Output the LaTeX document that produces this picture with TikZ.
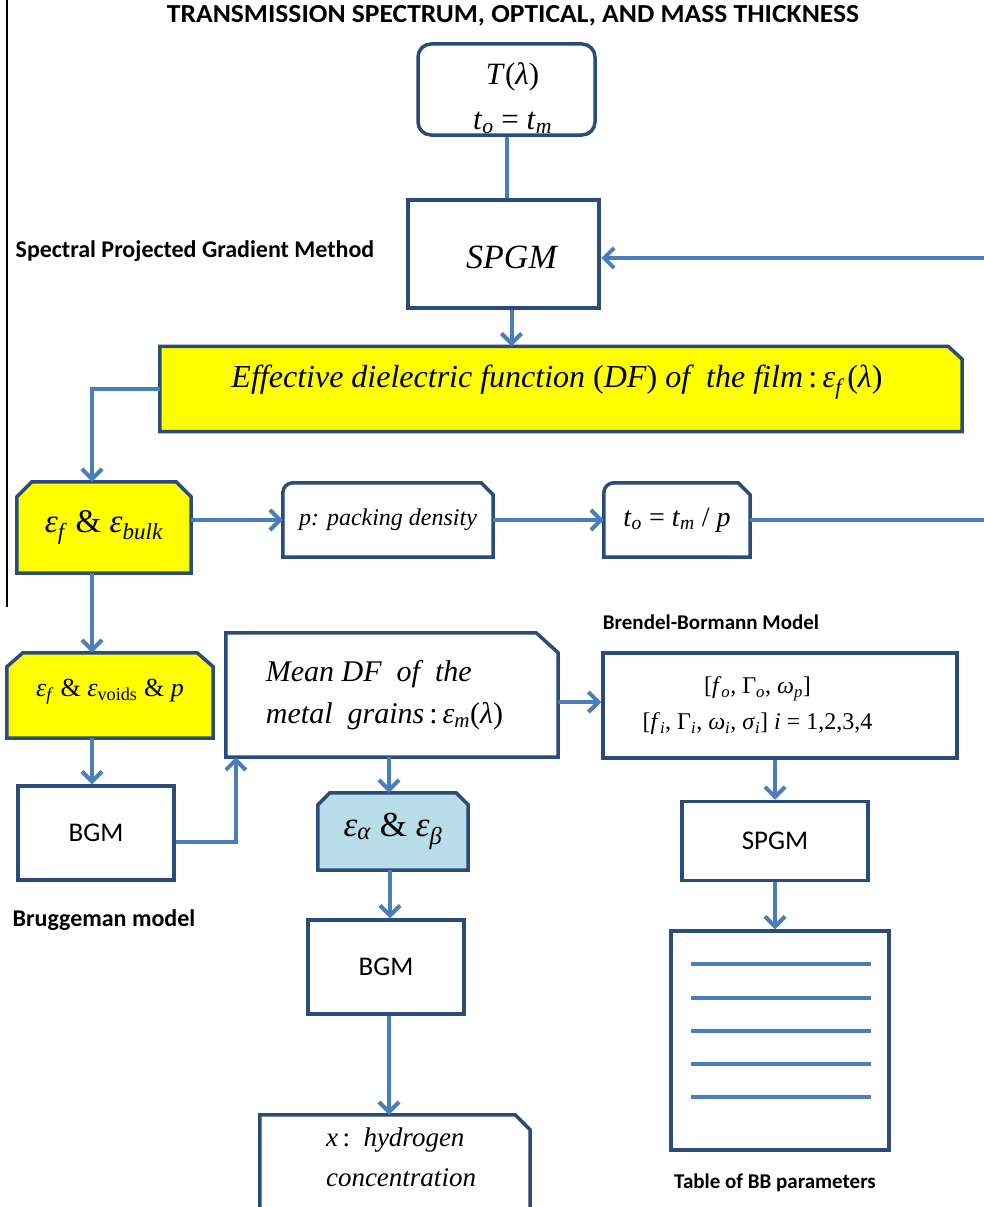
\documentclass[tikz,border=0pt]{standalone}
\usepackage{fontspec}
\setmainfont{Liberation Serif}
\newfontfamily\calib{Carlito}
\usetikzlibrary{arrows.meta,backgrounds}
\definecolor{cblue}{HTML}{4A7EBB}
\definecolor{bnavy}{HTML}{2B4B78}
\definecolor{ylw}{HTML}{FFFF00}
\definecolor{lblue}{HTML}{B7DDE8}
\newcommand\fs[2][]{\fontsize{#2}{#2}\selectfont}
\newcommand\sbs[1]{\textsubscript{#1}}
\tikzset{
  sq/.style={draw=bnavy,line width=3.5pt,inner sep=0pt,align=center},
  nb/.style={inner sep=0pt,align=center},
  outl/.style={draw=bnavy,line width=3.5pt,line join=miter},
  conn/.style={draw=cblue,line width=4pt},
  arr/.style={conn,-{Straight Barb[length=10pt,width=20pt]}},
  lbl/.style={font=\calib\bfseries\fontsize{24}{24}\selectfont,inner sep=0pt},
  lbls/.style={font=\calib\bfseries\fontsize{21}{21}\selectfont,inner sep=0pt},
}
\begin{document}
\begin{tikzpicture}[x=1pt,y=-1pt]
\useasboundingbox (0,0) rectangle (984,1207);
% labels
\node[inner sep=0pt,font=\calib\bfseries\fontsize{26}{26}\selectfont] (title) at (513,16)
  {\scalebox{1.06}[1]{TRANSMISSION SPECTRUM, OPTICAL, AND MASS THICKNESS}};
\node[lbl] (lspgm) at (195,251) {Spectral Projected Gradient Method};
\node[lbl] (lbrug) at (104,920) {Bruggeman model};
\node[lbls] (lbren) at (711,622) {Brendel-Bormann Model};
\node[lbls] (ltab) at (775,1183) {Table of BB parameters};
% plain boxes
\node[sq,rounded corners=13pt,minimum width=177pt,minimum height=91pt] (T) at (506.5,89.5) {};
\node[nb,font=\fontsize{31}{45}\selectfont] (Ttxt) at ([xshift=6pt,yshift=-9pt]T.center)
  {\textit{T}(\textit{λ})\\\textit{t}\sbs{\textit{o}} = \textit{t}\sbs{\textit{m}}};
\node[sq,line width=4.5pt,minimum width=191pt,minimum height=108pt] (spgm) at (503.5,254) {};
\node[nb] (spgmtxt) at ([xshift=8pt,yshift=-3pt]spgm.center) {\fs{34}\itshape SPGM};
\node[sq,minimum width=156pt,minimum height=94pt] (bgm1) at (96,833) {\calib\fs{27}BGM};
\node[sq,minimum width=156pt,minimum height=94pt] (bgm2) at (386,967) {\calib\fs{27}BGM};
\node[sq,minimum width=354pt,minimum height=105pt,font=\fontsize{24}{36}\selectfont] (bb) at (780,705.5)
  {{}[\textit{f}\sbs{\textit{o}}, Γ\sbs{\textit{o}}, \textit{ω}\sbs{\textit{p}}]\hspace*{45pt}\\{}[\textit{f}\sbs{\textit{i}}, Γ\sbs{\textit{i}}, \textit{ω}\sbs{\textit{i}}, \textit{σ}\sbs{\textit{i}}] \textit{i} = 1,2,3,4\hspace*{45pt}};
\node[sq,minimum width=186pt,minimum height=79pt] (spgm2) at (775,841) {\calib\fs{27}SPGM};
\node[sq,minimum width=218pt,minimum height=219pt] (tab) at (780,1040.5) {};
% shaped boxes (outlines on background)
\node[nb,minimum width=802pt,minimum height=85pt] (eff) at (561,389) {};
\node[nb] (efftxt) at ([xshift=-4pt,yshift=7pt]eff.center)
  {\fs{32}\textit{Effective dielectric function }(\textit{DF})\textit{ of\ \ the film}\,:\,\textit{ε\sbs{f}}\,(\textit{λ})};
\node[nb,minimum width=174pt,minimum height=91pt] (ebulk) at (104,527.5)
  {\fs{33}\textit{ε}\sbs{\textit{f}} \& \textit{ε}\sbs{\textit{bulk}}};
\node[nb,minimum width=210pt,minimum height=74pt] (pbox) at (388,520)
  {\fs{24}\textit{p: packing density}};
\node[nb,minimum width=146pt,minimum height=74pt] (tob) at (677,520)
  {\fs{28}\textit{t}\sbs{\textit{o}} = \textit{t}\sbs{\textit{m}} / \textit{p}};
\node[nb,minimum width=206pt,minimum height=85pt] (evoids) at (110,695.5) {};
\node[nb] (evtxt) at ([yshift=4pt]evoids.center)
  {\fs{26}\textit{ε}\sbs{\textit{f}} \& \textit{ε}\sbs{voids} \& \textit{p}};
\node[nb,minimum width=332pt,minimum height=124pt,align=left,font=\fontsize{30}{42}\selectfont] (mdf) at (392,695)
  {\textit{Mean DF\ \ of\ \ the}\\{}\textit{metal\ \ grains}\,:\,\textit{ε}\sbs{\textit{m}}(\textit{λ})\hspace*{15pt}};
\node[nb,minimum width=150pt,minimum height=77pt] (ealpha) at (393,831.5)
  {\fs{35}\textit{ε}\sbs{\textit{α}} \& \textit{ε}\sbs{\textit{β}}};
\node[nb,minimum width=270pt,minimum height=84pt,align=left,font=\fontsize{27}{40}\selectfont] (hyd) at (395,1157)
  {\hspace*{12pt}\textit{x}\,:\ \ \textit{hydrogen}\\{}\hspace*{12pt}\textit{concentration}};
\begin{pgfonlayer}{background}
\draw[outl,fill=ylw] (eff.south west) -- (eff.north west) -- ([xshift=-14pt]eff.north east)
  -- ([yshift=-13pt]eff.north east) -- (eff.south east) -- cycle;
\draw[outl,fill=ylw] (ebulk.south west) -- ([yshift=-15pt]ebulk.north west) -- ([xshift=15pt]ebulk.north west)
  -- ([xshift=-15pt]ebulk.north east) -- ([yshift=-15pt]ebulk.north east) -- (ebulk.south east) -- cycle;
\draw[outl,fill=ylw] (evoids.south west) -- ([yshift=-14pt]evoids.north west) -- ([xshift=16pt]evoids.north west)
  -- ([xshift=-16pt]evoids.north east) -- ([yshift=-14pt]evoids.north east) -- (evoids.south east) -- cycle;
\draw[outl,fill=lblue] (ealpha.south west) -- ([yshift=-12pt]ealpha.north west) -- ([xshift=12pt]ealpha.north west)
  -- ([xshift=-12pt]ealpha.north east) -- ([yshift=-12pt]ealpha.north east) -- (ealpha.south east) -- cycle;
\draw[outl,fill=white] (mdf.south west) -- (mdf.north west) -- ([xshift=-22pt]mdf.north east)
  -- ([yshift=-20pt]mdf.north east) -- (mdf.south east) -- cycle;
\draw[outl,fill=white] ([yshift=-20pt]hyd.south west) -- (hyd.north west) -- ([xshift=-15pt]hyd.north east)
  -- ([yshift=-15pt]hyd.north east) -- ([yshift=-20pt]hyd.south east);
\draw[outl,fill=white] (pbox.south west) -- ([yshift=-10pt]pbox.north west) arc[start angle=180,end angle=90,radius=10pt]
  -- ([xshift=-12pt]pbox.north east) -- ([yshift=-12pt]pbox.north east) -- (pbox.south east) -- cycle;
\draw[outl,fill=white] (tob.south west) -- ([yshift=-10pt]tob.north west) arc[start angle=180,end angle=90,radius=10pt]
  -- ([xshift=-12pt]tob.north east) -- ([yshift=-12pt]tob.north east) -- (tob.south east) -- cycle;
\end{pgfonlayer}
% table lines
\foreach \yy in {964,998,1031,1064,1097}
  \draw[draw=cblue,line width=4pt] ([xshift=22pt]tab.west |- 0,\yy) -- ([xshift=-20pt]tab.east |- 0,\yy);
% left thin line
\draw[black,line width=1.2pt] (7,0) -- (7,607);
% connectors
\coordinate (rtop) at (992,258);
\draw[conn] (T.south) -- (T.south |- spgm.north);
\draw[arr] (tob.east) -| (rtop) -- (rtop -| spgm.east);
\draw[arr] ([xshift=8pt]spgm.south) -- ([xshift=8pt]spgm.south |- eff.north);
\draw[arr] (eff.west) -| ([xshift=-12pt]ebulk.north);
\draw[arr] (ebulk.east |- pbox.west) -- (pbox.west);
\draw[arr] (pbox.east) -- (tob.west);
\draw[arr] ([xshift=-12pt]ebulk.south) -- ([xshift=-12pt]ebulk.south |- evoids.north);
\draw[arr] ([xshift=-12pt]ebulk.south |- evoids.south) -- ([xshift=-12pt]ebulk.south |- bgm1.north);
\draw[arr] ([yshift=-9pt]bgm1.east) -| ([xshift=10pt]mdf.south west);
\draw[arr] ([yshift=-7pt]mdf.east) -- ([yshift=-7pt]mdf.east -| bb.west);
\draw[arr] ([xshift=-3pt]mdf.south) -- ([xshift=-3pt]mdf.south |- ealpha.north);
\draw[arr] ([xshift=-3pt]ealpha.south) -- ([xshift=-3pt]ealpha.south |- bgm2.north);
\draw[arr] ([xshift=3pt]bgm2.south) -- ([xshift=3pt]bgm2.south |- hyd.north);
\draw[arr] (spgm2.north |- bb.south) -- (spgm2.north);
\draw[arr] (spgm2.south) -- (spgm2.south |- tab.north);
\end{tikzpicture}
\end{document}
